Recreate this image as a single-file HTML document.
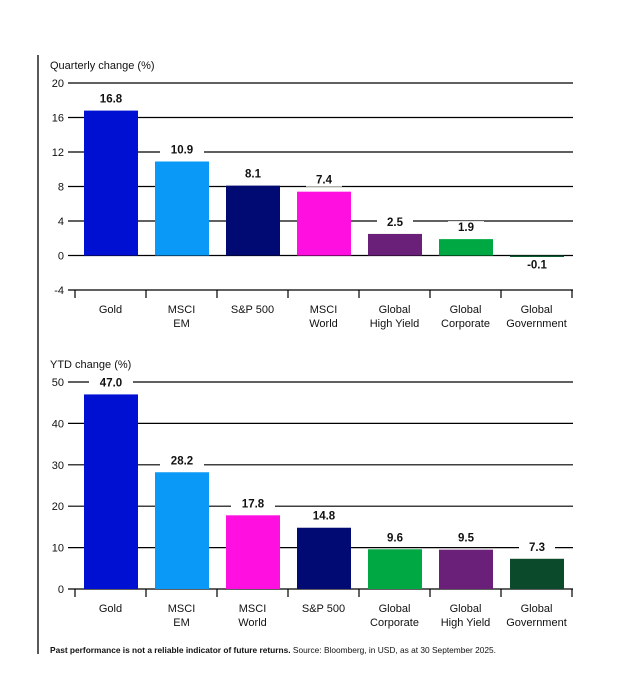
<!DOCTYPE html>
<html><head><meta charset="utf-8"><style>
body{margin:0;background:#fff;width:644px;height:679px;overflow:hidden;font-family:"Liberation Sans",sans-serif}
svg text{font-family:"Liberation Sans",sans-serif}
</style></head><body>
<svg id="s" width="644" height="679">
<line x1="38" y1="55" x2="38" y2="654" stroke="#000" stroke-width="1.3"/>
<text x="50" y="69" font-size="11" fill="#111">Quarterly change (%)</text>
<text x="50" y="368" font-size="11" fill="#111">YTD change (%)</text>
<text x="50" y="653" font-size="8.2" fill="#111" textLength="446" lengthAdjust="spacingAndGlyphs"><tspan font-weight="bold">Past performance is not a reliable indicator of future returns.</tspan> Source: Bloomberg, in USD, as at 30 September 2025.</text>
</svg>
<script>
const qCats=[["Gold"],["MSCI","EM"],["S&P 500"],["MSCI","World"],["Global","High Yield"],["Global","Corporate"],["Global","Government"]];
const qVals=[16.8,10.9,8.1,7.4,2.5,1.9,-0.1];
const qColors=["#0010d2","#0a99f7","#000a72","#ff10e0","#6a1f78","#00a843","#0b5a32"];
const qTicks=[-4,0,4,8,12,16,20];
const yCats=[["Gold"],["MSCI","EM"],["MSCI","World"],["S&P 500"],["Global","Corporate"],["Global","High Yield"],["Global","Government"]];
const yVals=[47.0,28.2,17.8,14.8,9.6,9.5,7.3];
const yColors=["#0010d2","#0a99f7","#ff10e0","#000a72","#00a843","#6a1f78","#0b4a2a"];
const yTicks=[0,10,20,30,40,50];
const NS="http://www.w3.org/2000/svg";
const svg=document.getElementById('s');
function mk(t,a){const e=document.createElementNS(NS,t);for(const k in a)e.setAttribute(k,a[k]);svg.appendChild(e);return e;}
function chart(cats,vals,colors,ticks,yTop,yBot,min,max,pre){
  const y=v=>yBot-(v-min)/(max-min)*(yBot-yTop);
  const x0=75,cw=71;
  ticks.forEach(t=>{
    const g=mk('line',{x1:68,x2:573,y1:y(t),y2:y(t),stroke:'#000','stroke-width':1.2});
    
    
    const tx=mk('text',{x:64,y:y(t)+4,'font-size':11,'text-anchor':'end',fill:'#111'});tx.textContent=t;
    
    
  });
  for(let i=0;i<=cats.length;i++){
    const l=mk('line',{x1:x0+i*cw,x2:x0+i*cw,y1:yBot,y2:yBot+8,stroke:'#000','stroke-width':1.2});
    
    
  }
  vals.forEach((v,i)=>{
    const bx=x0+i*cw+9,bw=54;
    const top=y(Math.max(v,0)),bot=y(Math.min(v,0));
    const r=mk('rect',{x:bx,y:top,width:bw,height:Math.max(bot-top,1.5),fill:colors[i]});
    
    
    const ly=v>=0?top-8:bot+12;
    const s=v.toFixed(1);
    const bg=mk('rect',{x:bx+27-s.length*4-6,y:ly-10,width:s.length*8+12,height:13,fill:'#fff'});
    
    
    const t=mk('text',{x:bx+27,y:ly,'font-size':11.5,'font-weight':'bold','text-anchor':'middle',fill:'#111'});t.textContent=s;
    
    
    cats[i].forEach((ln,j)=>{
      const c=mk('text',{x:x0+i*cw+cw/2,y:yBot+23+j*14,'font-size':11,'text-anchor':'middle',fill:'#111'});c.textContent=ln;
      
      
    });
  });
}
chart(qCats,qVals,qColors,qTicks,83,290,-4,20,'q-');
chart(yCats,yVals,yColors,yTicks,382,589,0,50,'ytd-');
</script>
</body></html>
